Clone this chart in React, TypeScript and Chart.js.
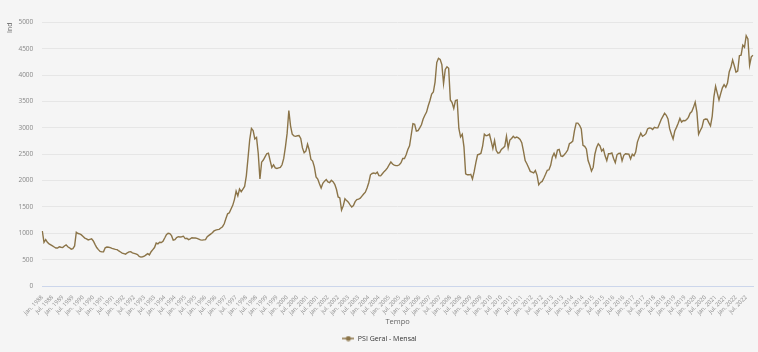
import React, { useEffect, useRef } from 'react';
import { Chart, registerables } from 'chart.js';

Chart.register(...registerables);

const monthNames = ['jan.', 'fev.', 'mar.', 'abr.', 'mai.', 'jun.', 'jul.', 'ago.', 'set.', 'out.', 'nov.', 'dez.'];
const startYear = 1988;
const seriesName = 'PSI Geral - Mensal';
const yTicks = [0, 500, 1000, 1500, 2000, 2500, 3000, 3500, 4000, 4500, 5000];

// Monthly values, jan. 1988 – nov. 2022
const psi1988_1994 = [
  1044, 830, 880, 830, 800, 780, 760, 740, 720, 720, 745, 735,
  730, 760, 780, 745, 725, 700, 710, 760, 1020, 995, 990, 970,
  940, 910, 895, 875, 885, 895, 855, 790, 730, 690, 655, 648,
  650, 725, 740, 735, 728, 715, 705, 695, 690, 665, 645, 625,
  615, 605, 630, 648, 650, 630, 620, 610, 595, 560, 548, 555,
  565, 590, 615, 590, 650, 690, 730, 815, 800, 830, 825, 850,
  910, 975, 1000, 995, 955, 870, 880, 920, 935, 930, 935, 945,
];
const psi1995_2001 = [
  900, 905, 880, 895, 915, 910, 910, 905, 890, 875, 870, 875,
  880, 935, 960, 985, 1010, 1045, 1060, 1070, 1075, 1100, 1125, 1180,
  1280, 1370, 1390, 1460, 1530, 1640, 1800, 1710, 1840, 1790, 1840, 1890,
  2090, 2430, 2780, 2990, 2950, 2790, 2820, 2520, 2030, 2350, 2390, 2450,
  2510, 2520, 2380, 2250, 2300, 2240, 2230, 2240, 2250, 2300, 2420, 2640,
  2900, 3330, 3040, 2880, 2850, 2840, 2850, 2855, 2800, 2620, 2530, 2560,
  2690, 2580, 2400, 2370, 2260, 2070, 2030, 1940, 1860, 1950, 1990, 2020,
];
const psi2002_2008 = [
  1975, 1960, 2005, 1980, 1930, 1835, 1690, 1670, 1440, 1520, 1655, 1620,
  1590, 1540, 1500, 1525, 1600, 1640, 1650, 1665, 1705, 1745, 1780, 1860,
  1960, 2110, 2135, 2145, 2130, 2160, 2095, 2090, 2130, 2170, 2200, 2240,
  2300, 2355, 2315, 2295, 2285, 2285, 2300, 2340, 2420, 2420, 2490, 2590,
  2660, 2870, 3080, 3070, 2940, 2950, 3000, 3060, 3170, 3240, 3300, 3420,
  3520, 3640, 3680, 3870, 4240, 4320, 4300, 4200, 3840, 4110, 4160, 4130,
  3530, 3480, 3370, 3520, 3530, 2990, 2830, 2880, 2640, 2130, 2110, 2110,
];
const psi2009_2015 = [
  2120, 2030, 2170, 2340, 2490, 2500, 2520, 2660, 2880, 2850, 2860, 2880,
  2750, 2610, 2760, 2570, 2520, 2530, 2590, 2620, 2650, 2840, 2620, 2770,
  2800, 2840, 2810, 2825, 2810, 2780, 2720, 2560, 2380, 2320, 2250, 2175,
  2160, 2145, 2190, 2100, 1920, 1965, 1985, 2050, 2120, 2195, 2205, 2290,
  2450, 2520, 2440, 2580, 2590, 2470, 2460, 2490, 2530, 2580, 2700, 2720,
  2750, 2950, 3090, 3090, 3050, 2980, 2670, 2650, 2600, 2380, 2290, 2180,
  2250, 2500, 2630, 2700, 2660, 2560, 2600, 2470, 2380, 2510, 2510, 2525,
];
const psi2016_2022 = [
  2420, 2340, 2490, 2515, 2520, 2375, 2480, 2510, 2505, 2500, 2410, 2500,
  2470, 2540, 2730, 2820, 2900, 2840, 2860, 2890, 2980, 3000, 2995, 2970,
  3010, 3000, 3000, 3080, 3160, 3220, 3280, 3240, 3170, 2980, 2880, 2790,
  2940, 3010, 3090, 3180, 3110, 3140, 3135, 3160, 3200, 3280, 3310, 3390,
  3490, 3300, 2880, 2950, 3010, 3150, 3170, 3165, 3100, 3040, 3220, 3590,
  3790, 3660, 3530, 3650, 3760, 3820, 3770, 3850, 4060, 4150, 4290, 4180,
  4060, 4080, 4370, 4380, 4570, 4530, 4750, 4690, 4190, 4350, 4380,
];

const psiValues = [...psi1988_1994, ...psi1995_2001, ...psi2002_2008, ...psi2009_2015, ...psi2016_2022];
const monthLabels = psiValues.map((_, i) => `${monthNames[i % 12]} ${startYear + Math.floor(i / 12)}`);

const LINE_COLOR = '#8b7448';
const FONT = "'Open Sans', 'DejaVu Sans', sans-serif";

function makeMarker(color: string) {
  const c = document.createElement('canvas');
  c.width = 12;
  c.height = 6;
  const ctx = c.getContext('2d')!;
  ctx.strokeStyle = color;
  ctx.lineWidth = 1.5;
  ctx.beginPath();
  ctx.moveTo(0, 3);
  ctx.lineTo(12, 3);
  ctx.stroke();
  ctx.fillStyle = color;
  ctx.beginPath();
  ctx.arc(6, 3, 2.5, 0, Math.PI * 2);
  ctx.fill();
  return c;
}

export default function App() {
  const ref = useRef<HTMLCanvasElement | null>(null);

  useEffect(() => {
    if (!ref.current) return;
    const marker = makeMarker(LINE_COLOR);
    const chart = new Chart(ref.current, {
      type: 'line',
      data: {
        labels: monthLabels,
        datasets: [
          {
            label: seriesName,
            data: psiValues,
            borderColor: LINE_COLOR,
            backgroundColor: LINE_COLOR,
            borderWidth: 1.4,
            pointRadius: 0,
            pointHoverRadius: 0,
            tension: 0,
            fill: false,
          },
        ],
      },
      options: {
        responsive: false,
        animation: false,
        layout: { padding: { left: 6, right: 5, top: 22.5, bottom: 0 } },
        plugins: {
          tooltip: { enabled: false },
          legend: {
            position: 'bottom',
            labels: {
              usePointStyle: true,
              pointStyle: marker as any,
              pointStyleWidth: 12,
              boxHeight: 6,
              font: { size: 7, family: FONT },
              color: '#333333',
              padding: 9,
            },
          },
        },
        scales: {
          x: {
            type: 'category',
            offset: false,
            grid: { display: false },
            border: { display: true, color: '#ccd6eb', width: 1 },
            ticks: {
              autoSkip: false,
              minRotation: 45,
              maxRotation: 45,
              padding: 0,
              color: '#8f8f8f',
              font: { size: 5.8, family: FONT },
              callback: (_v: any, i: number) => (i % 6 === 0 ? monthLabels[i] : ''),
            },
            title: {
              display: true,
              text: 'Tempo',
              color: '#666666',
              font: { size: 7.5, family: FONT },
              padding: { top: 0, bottom: 0 },
            },
            afterFit: (s: any) => {
              s.height = 40;
            },
          },
          y: {
            min: 0,
            max: 5000,
            afterBuildTicks: (s: any) => {
              s.ticks = yTicks.map((v) => ({ value: v }));
            },
            grid: { color: '#e6e6e6', drawTicks: false },
            border: { display: false },
            ticks: {
              padding: 9,
              color: '#888888',
              font: { size: 6.5, family: FONT },
              callback: (v: any) => String(v),
            },
            title: {
              display: true,
              text: 'Ind',
              align: 'end',
              color: '#666666',
              font: { size: 7, family: FONT },
              padding: { top: 0, bottom: 0 },
            },
            afterFit: (s: any) => {
              s.width = 36.3;
            },
          },
        },
      },
    });
    return () => chart.destroy();
  }, []);

  return (
    <div
      style={{
        position: 'fixed',
        left: 0,
        top: 0,
        width: 758,
        height: 352,
        background: '#f5f5f5',
      }}
    >
      <canvas ref={ref} width={758} height={352} style={{ display: 'block' }} />
    </div>
  );
}
